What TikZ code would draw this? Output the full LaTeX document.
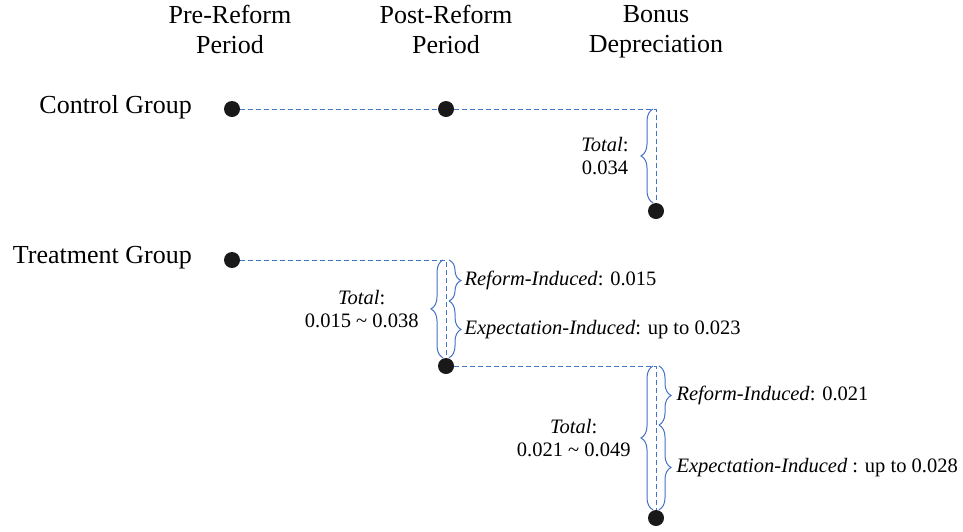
\documentclass[tikz,border=0pt]{standalone}
\usepackage{fontspec}
\setmainfont{Liberation Serif}
\usetikzlibrary{positioning,decorations.pathreplacing}
\definecolor{lineblue}{RGB}{68,114,196}

\begin{document}
\begin{tikzpicture}[x=1pt,y=1pt,
  dot/.style={circle,fill=black!90,inner sep=0,minimum size=16pt},
  link/.style={lineblue,line width=1pt,dash pattern=on 5pt off 3pt},
  brc/.style={lineblue,line width=1pt,decorate,decoration={brace,amplitude=12pt}},
  lbl/.style={inner sep=0,text=black,font=\fontsize{20.5}{23}\selectfont,align=center},
  big/.style={inner sep=0,font=\fontsize{26}{30}\selectfont,align=center}]
  \useasboundingbox (0,0) rectangle (963,-531);
  \foreach \x/\nm/\txt in {230/pre/{Pre-Reform\\Period},446/post/{Post-Reform\\Period},656/bonus/{Bonus\\Depreciation}}
    \node[big,anchor=north] (\nm) at (\x,-5) {\txt};
  \node[big,anchor=east] (ctrl) at (192,-107) {Control Group};
  \node[big,anchor=east] (treat) at (192,-258) {Treatment Group};
  \node[dot] (c1) at (232,-109) {};
  \node[dot] (c2) at (446,-109) {};
  \node[dot] (c3) at (656,-211) {};
  \node[dot] (t1) at (232,-260) {};
  \node[dot] (t2) at (446,-366) {};
  \node[dot] (t3) at (656,-518) {};
  \coordinate (k0) at (c2 -| c3);
  \coordinate (k1) at (t1 -| t2);
  \coordinate (k2) at (t2 -| t3);
  \coordinate (s1) at (446,-301);
  \coordinate (s2) at (656,-425);
  \draw[link] (c1) -- (c2) -- (k0) -- (c3);
  \draw[link] (t1) -- (k1) -- (t2) -- (k2) -- (t3);
  \draw[brc] ([xshift=-3pt]c3.north) -- ([xshift=-3pt]k0)
    node[lbl,midway,left=24pt] (tot0) {\textit{Total}:\\0.034};
  \draw[brc] ([xshift=-3pt]t2.north) -- ([xshift=-3pt]k1)
    node[lbl,midway,left=24pt] (tot1) {\textit{Total}:\\0.015 \textasciitilde{} 0.038};
  \draw[brc] ([xshift=-3pt]t3.north) -- ([xshift=-3pt]k2)
    node[lbl,midway,left=22pt] (tot2) {\textit{Total}:\\0.021 \textasciitilde{} 0.049};
  \draw[brc] ([xshift=3pt]k1) -- ([xshift=3pt]s1)
    node[lbl,midway,right=15pt] (ref1) {\textit{Reform-Induced}: 0.015};
  \draw[brc] ([xshift=3pt]s1) -- ([xshift=3pt]t2.north)
    node[lbl,midway,right=15pt] (exp1) {\textit{Expectation-Induced}: up to 0.023};
  \draw[brc] ([xshift=3pt]k2) -- ([xshift=3pt]s2)
    node[lbl,midway,right=17pt] (ref2) {\textit{Reform-Induced}: 0.021};
  \draw[brc] ([xshift=3pt]s2) -- ([xshift=3pt]t3.north)
    node[lbl,midway,right=17pt] (exp2) {\textit{Expectation-Induced} : up to 0.028};
\end{tikzpicture}
\end{document}
